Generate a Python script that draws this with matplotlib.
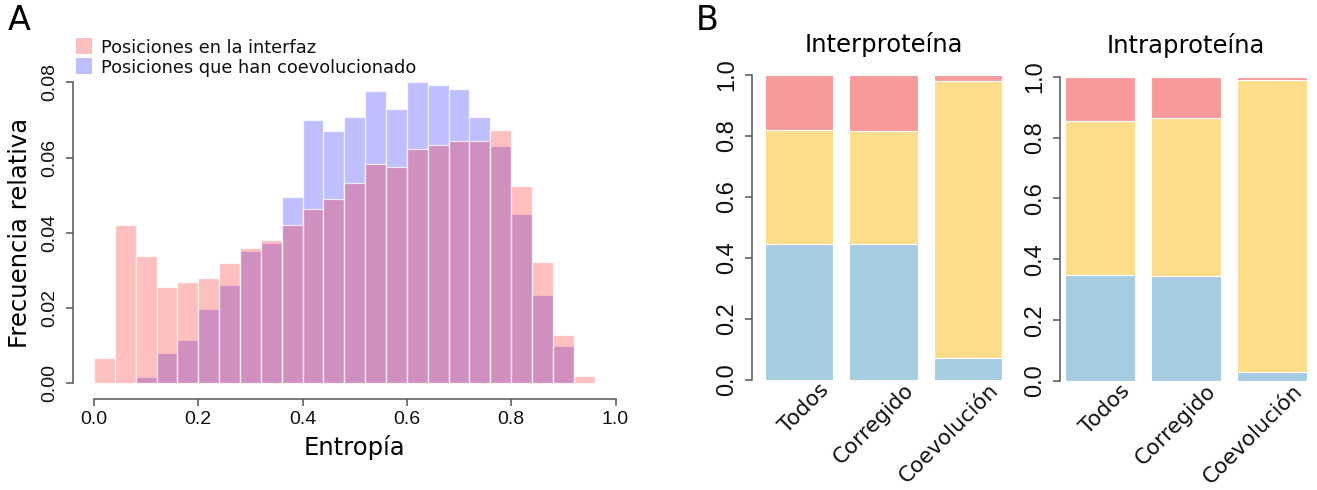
import matplotlib
matplotlib.use("Agg")
import matplotlib.pyplot as plt
from matplotlib.patches import Rectangle
import matplotlib.transforms as mtransforms

# ---------------- data ----------------
entropy_edges = [0.00, 0.04, 0.08, 0.12, 0.16, 0.20, 0.24, 0.28, 0.32, 0.36,
                 0.40, 0.44, 0.48, 0.52, 0.56, 0.60, 0.64, 0.68, 0.72, 0.76,
                 0.80, 0.84, 0.88, 0.92, 0.96]
freq_interfaz = [0.0066, 0.0421, 0.0339, 0.0256, 0.0269, 0.0279, 0.0319, 0.0360,
                 0.0382, 0.0420, 0.0463, 0.0490, 0.0532, 0.0584, 0.0576, 0.0624,
                 0.0634, 0.0645, 0.0643, 0.0673, 0.0524, 0.0322, 0.0127, 0.0020]
freq_coevol = [0.0000, 0.0000, 0.0016, 0.0081, 0.0116, 0.0198, 0.0262, 0.0351,
               0.0374, 0.0496, 0.0701, 0.0671, 0.0707, 0.0776, 0.0729, 0.0800,
               0.0794, 0.0781, 0.0707, 0.0631, 0.0449, 0.0234, 0.0098, 0.0000]
legend_labels = ["Posiciones en la interfaz", "Posiciones que han coevolucionado"]

groups = ["Todos", "Corregido", "Coevolución"]
inter_low = [0.446, 0.446, 0.073]
inter_mid = [0.374, 0.370, 0.907]
inter_high = [0.180, 0.184, 0.020]
intra_low = [0.347, 0.344, 0.029]
intra_mid = [0.507, 0.519, 0.960]
intra_high = [0.146, 0.137, 0.011]
panel_titles = ["Interproteína", "Intraproteína"]

# ---------------- style ----------------
W, H = 1317, 490
LABEL_FONT = ["DejaVu Sans"]
TICK_FONT = ["Liberation Sans", "DejaVu Sans"]
AXIS_GREY = "#555555"
RED_A = (1.0, 0.0, 0.0, 0.25)
BLUE_A = (0.0, 0.0, 1.0, 0.25)
EDGE = (1.0, 1.0, 1.0, 0.7)
C_LOW, C_MID, C_HIGH = "#A6CCE2", "#FDDC8A", "#F99A9A"

fig = plt.figure(figsize=(W / 100, H / 100), dpi=100)


def px_axes(left, top, right, bottom):
    return fig.add_axes([left / W, 1 - bottom / H, (right - left) / W, (bottom - top) / H])


def r_style(ax, ybounds, xbounds=None):
    for s in ("top", "right"):
        ax.spines[s].set_visible(False)
    ax.spines["left"].set_bounds(*ybounds)
    ax.spines["left"].set_color(AXIS_GREY)
    ax.spines["left"].set_linewidth(1.1)
    if xbounds is None:
        ax.spines["bottom"].set_visible(False)
        ax.tick_params(axis="x", bottom=False, labelbottom=False)
    else:
        ax.spines["bottom"].set_bounds(*xbounds)
        ax.spines["bottom"].set_color(AXIS_GREY)
        ax.spines["bottom"].set_linewidth(1.1)
        ax.spines["bottom"].set_position(("outward", 2.5))
    ax.tick_params(colors=AXIS_GREY, labelcolor="#111111", length=5, width=1.1)


# ---------------- panel A: histogram ----------------
axA = px_axes(73.1, 70.3, 636.4, 395.3)
axA.set_xlim(-0.04, 1.04)
axA.set_ylim(-0.0032, 0.0832)
lefts = entropy_edges[:-1]
widths = [b - a for a, b in zip(entropy_edges[:-1], entropy_edges[1:])]
axA.bar(lefts, freq_coevol, width=widths, align="edge", color=BLUE_A,
        edgecolor=EDGE, linewidth=0.9)
axA.bar(lefts, freq_interfaz, width=widths, align="edge", color=RED_A,
        edgecolor=EDGE, linewidth=0.9)
r_style(axA, (0, 0.08), (0, 1))
axA.set_xticks([0.0, 0.2, 0.4, 0.6, 0.8, 1.0])
axA.set_xticklabels(["0.0", "0.2", "0.4", "0.6", "0.8", "1.0"],
                    family=TICK_FONT, fontsize=14)
axA.set_yticks([0.0, 0.02, 0.04, 0.06, 0.08])
axA.set_yticklabels(["0.00", "0.02", "0.04", "0.06", "0.08"],
                    family=TICK_FONT, fontsize=14, rotation=90, va="center")
axA.tick_params(axis="x", pad=4)
axA.tick_params(axis="y", pad=6)
axA.set_xlabel("Entropía", family=LABEL_FONT, fontsize=17.5, labelpad=5)
axA.set_ylabel("Frecuencia relativa", family=LABEL_FONT, fontsize=17.5, labelpad=6)

# legend: filled squares with labels
for i, (lab, col) in enumerate(zip(legend_labels, [RED_A, BLUE_A])):
    yc = 46.3 + i * 19.3
    fig.add_artist(Rectangle((76 / W, 1 - (yc + 8) / H), 16 / W, 16 / H,
                             transform=fig.transFigure, facecolor=col,
                             edgecolor="none"))
    fig.text(101 / W, 1 - yc / H, lab, family=LABEL_FONT, fontsize=12.8,
             va="center_baseline", ha="left", color="#111111")

fig.text(8 / W, 1 - 20 / H, "A", family=LABEL_FONT, fontsize=24, va="center", ha="left")
fig.text(696 / W, 1 - 20 / H, "B", family=LABEL_FONT, fontsize=24, va="center", ha="left")


# ---------------- panel B: stacked proportions ----------------
def stacked(ax, low, mid, high, title, xlim):
    x = list(range(len(groups)))
    kw = dict(width=0.81, edgecolor="white", linewidth=0.8)
    ax.bar(x, low, color=C_LOW, **kw)
    base = [a for a in low]
    ax.bar(x, mid, bottom=base, color=C_MID, **kw)
    base = [a + b for a, b in zip(low, mid)]
    ax.bar(x, high, bottom=base, color=C_HIGH, **kw)
    ax.set_xlim(*xlim)
    ax.set_ylim(-0.04, 1.04)
    r_style(ax, (0, 1))
    ticks = [0.0, 0.2, 0.4, 0.6, 0.8, 1.0]
    ax.set_yticks(ticks)
    ax.set_yticklabels([f"{t:.1f}" for t in ticks], family=TICK_FONT,
                       fontsize=17, rotation=90, va="center")
    ax.tick_params(axis="y", pad=5)
    ax.set_title(title, family=LABEL_FONT, fontsize=17.5, pad=8)
    shift = mtransforms.ScaledTranslation(27 / 100, -7 / 100, fig.dpi_scale_trans)
    for i, g in enumerate(groups):
        ax.text(i, 0, g, transform=ax.transData + shift, rotation=45,
                rotation_mode="anchor", ha="right", va="center",
                family=LABEL_FONT, fontsize=15.5, color="#111111")


axI = px_axes(751.7, 62.8, 1015.6, 392.2)
stacked(axI, inter_low, inter_mid, inter_high, panel_titles[0], (-0.562, 2.562))
axJ = px_axes(1060.0, 64.5, 1312.2, 393.2)
stacked(axJ, intra_low, intra_mid, intra_high, panel_titles[1], (-0.468, 2.468))

fig.savefig("out.png", dpi=100)
